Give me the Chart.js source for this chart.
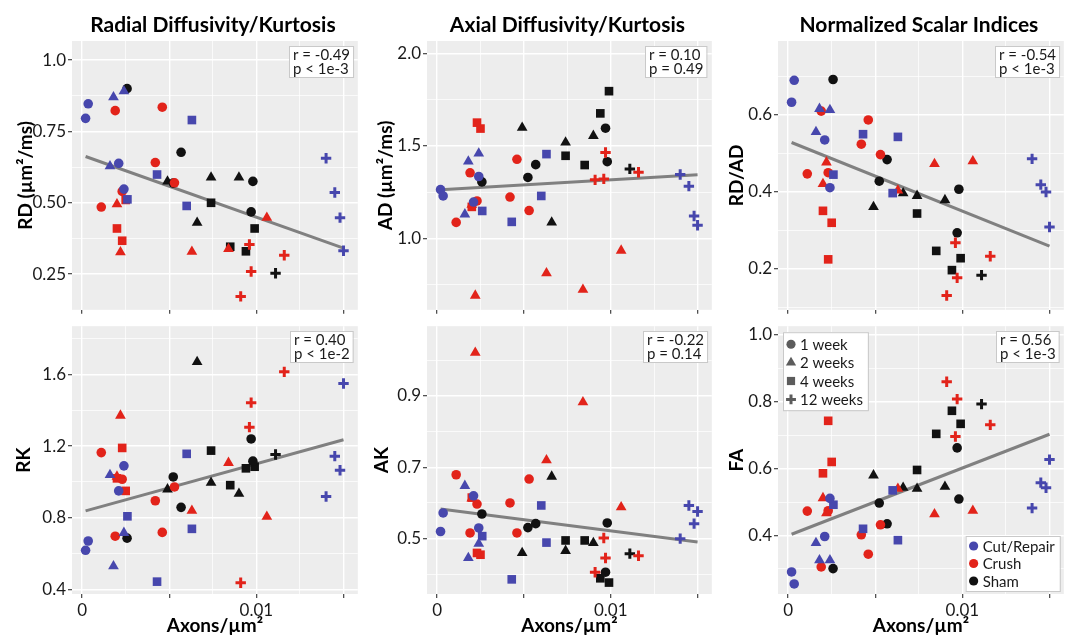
<!DOCTYPE html>
<html>
<head>
<meta charset="utf-8">
<script src="https://cdn.jsdelivr.net/npm/chart.js@4.4.1/dist/chart.umd.min.js"></script>
<style>
body { margin: 0; background: #fff; }
canvas { position: absolute; }
</style>
</head>
<body>
<canvas id="c0" width="366" height="318" style="left:0;top:0"></canvas>
<canvas id="c1" width="354" height="318" style="left:366px;top:0"></canvas>
<canvas id="c2" width="352" height="318" style="left:720px;top:0"></canvas>
<canvas id="c3" width="366" height="320" style="left:0;top:318px"></canvas>
<canvas id="c4" width="354" height="320" style="left:366px;top:318px"></canvas>
<canvas id="c5" width="352" height="320" style="left:720px;top:318px"></canvas>
<script>
// ---- data ----
const panelTitles = ['Radial Diffusivity/Kurtosis', 'Axial Diffusivity/Kurtosis', 'Normalized Scalar Indices'];
const yTitles = ['RD (µm²/ms)', 'AD (µm²/ms)', 'RD/AD', 'RK', 'AK', 'FA'];
const rLabels = ['r = -0.49', 'r = 0.10', 'r = -0.54', 'r = 0.40', 'r = -0.22', 'r = 0.56'];
const pLabels = ['p < 1e-3', 'p = 0.49', 'p < 1e-3', 'p < 1e-2', 'p = 0.14', 'p < 1e-3'];
const groupNames = ['Cut/Repair', 'Crush', 'Sham'];
const weekNames = ['1 week', '2 weeks', '4 weeks', '12 weeks'];
const weekValues = [1, 2, 4, 12];

// Cut/Repair
const cutWeek = [1, 1, 1, 1, 2, 2, 2, 4, 4, 4, 4, 12, 12, 12, 12];
const cutAxons = [0.0002, 0.00035, 0.0021, 0.0024, 0.0016, 0.0018, 0.0024, 0.0026, 0.0043, 0.006, 0.0063, 0.0140, 0.0145, 0.0148, 0.0150];
const cutRD = [0.796, 0.847, 0.638, 0.548, 0.628, 0.87, 0.891, 0.512, 0.599, 0.489, 0.79, 0.656, 0.536, 0.448, 0.332];
const cutAD = [1.263, 1.229, 1.196, 1.334, 1.13, 1.416, 1.459, 1.148, 1.089, 1.229, 1.455, 1.345, 1.282, 1.121, 1.071];
const cutRDAD = [0.633, 0.69, 0.535, 0.411, 0.556, 0.616, 0.613, 0.445, 0.55, 0.397, 0.543, 0.486, 0.419, 0.4, 0.309];
const cutRK = [0.618, 0.67, 0.95, 1.09, 1.039, 0.529, 0.716, 0.808, 0.443, 1.157, 0.738, 0.919, 1.144, 1.065, 1.55];
const cutAK = [0.52, 0.572, 0.62, 0.53, 0.648, 0.446, 0.486, 0.507, 0.386, 0.593, 0.489, 0.5, 0.593, 0.542, 0.576];
const cutFA = [0.291, 0.255, 0.397, 0.511, 0.378, 0.326, 0.326, 0.492, 0.42, 0.535, 0.386, 0.482, 0.558, 0.543, 0.627];

// Crush
const crushWeek = [1, 1, 1, 1, 1, 1, 2, 2, 2, 2, 2, 4, 4, 4, 12, 12, 12, 12];
const crushAxons = [0.0011, 0.0019, 0.0023, 0.0042, 0.0046, 0.0053, 0.002, 0.0022, 0.0063, 0.0084, 0.0106, 0.002, 0.0025, 0.0023, 0.0091, 0.0096, 0.0097, 0.0116];
const crushRD = [0.485, 0.823, 0.54, 0.641, 0.835, 0.57, 0.495, 0.327, 0.329, 0.338, 0.448, 0.41, 0.51, 0.367, 0.172, 0.354, 0.259, 0.316];
const crushAD = [1.086, 1.354, 1.202, 1.223, 1.427, 1.15, 1.182, 0.691, 0.812, 0.723, 0.934, 1.17, 1.593, 1.625, 1.316, 1.321, 1.464, 1.357];
const crushRDAD = [0.447, 0.61, 0.45, 0.524, 0.587, 0.497, 0.421, 0.477, 0.404, 0.473, 0.48, 0.351, 0.32, 0.225, 0.131, 0.268, 0.177, 0.233];
const crushRK = [1.164, 0.697, 1.015, 0.895, 0.718, 0.972, 1.03, 1.371, 0.839, 1.107, 0.806, 1.02, 0.95, 1.19, 0.437, 1.306, 1.443, 1.615];
const crushAK = [0.679, 0.516, 0.597, 0.6, 0.516, 0.667, 0.613, 1.021, 0.72, 0.882, 0.588, 0.615, 0.455, 0.46, 0.406, 0.502, 0.446, 0.452];
const crushFA = [0.473, 0.306, 0.474, 0.402, 0.344, 0.432, 0.512, 0.467, 0.54, 0.464, 0.474, 0.586, 0.62, 0.743, 0.86, 0.696, 0.808, 0.731];

// Sham
const shamWeek = [1, 1, 1, 1, 1, 2, 2, 2, 2, 4, 4, 4, 4, 12];
const shamAxons = [0.00258, 0.00523, 0.00568, 0.0097, 0.0098, 0.0049, 0.0066, 0.0074, 0.009, 0.0074, 0.0085, 0.0094, 0.0099, 0.0111];
const shamRD = [0.9, 0.569, 0.677, 0.468, 0.575, 0.575, 0.43, 0.589, 0.589, 0.5, 0.346, 0.33, 0.41, 0.253];
const shamAD = [1.305, 1.329, 1.398, 1.595, 1.414, 1.598, 1.086, 1.518, 1.554, 1.446, 1.396, 1.675, 1.795, 1.375];
const shamRDAD = [0.692, 0.428, 0.484, 0.294, 0.407, 0.361, 0.397, 0.39, 0.379, 0.344, 0.247, 0.197, 0.228, 0.184];
const shamRK = [0.686, 1.028, 0.858, 1.24, 1.116, 0.959, 1.67, 0.996, 0.935, 1.175, 0.982, 1.076, 1.085, 1.153];
const shamAK = [0.569, 0.531, 0.542, 0.406, 0.544, 0.46, 0.674, 0.466, 0.488, 0.495, 0.495, 0.389, 0.377, 0.458];
const shamFA = [0.301, 0.497, 0.435, 0.662, 0.509, 0.58, 0.543, 0.54, 0.546, 0.596, 0.704, 0.773, 0.734, 0.793];

// axes
const xMajor = [0, 0.005, 0.01, 0.015];
const xMinor = [0.0025, 0.0075, 0.0125];
const xLabels = ['0', '', '0.01', ''];
const yMajor = [[0.25, 0.5, 0.75, 1.0], [1.0, 1.5, 2.0], [0.2, 0.4, 0.6], [0.4, 0.8, 1.2, 1.6], [0.5, 0.7, 0.9], [0.4, 0.6, 0.8, 1.0]];
const yMinor = [[0.375, 0.625, 0.875], [0.75, 1.25, 1.75], [0.1, 0.3, 0.5, 0.7], [0.6, 1.0, 1.4, 1.8], [0.4, 0.6, 0.8, 1.0], [0.3, 0.5, 0.7, 0.9]];
const yLabels = [['0.25', '0.50', '0.75', '1.0'], ['1.0', '1.5', '2.0'], ['0.2', '0.4', '0.6'], ['0.4', '0.8', '1.2', '1.6'], ['0.5', '0.7', '0.9'], ['0.4', '0.6', '0.8', '1.0']];
const yMin = [0.125, 0.614, 0.094, 0.374, 0.345, 0.225];
const yMax = [1.067, 2.066, 0.792, 1.87, 1.095, 1.026];
const xMin = -0.00058, xMax = 0.01582;

// ---- style ----
const FONT = 'Lato, "Liberation Sans", sans-serif';
const groupColors = ['#4747ad', '#e2231a', '#111111'];
const weekStyles = ['circle', 'triangle', 'rect', 'cross'];
const weekRadius = [4.8, 6.2, 6.1, 5.2];
const yAxisWidth = [72, 61, 58];
const rightPad = [3, 2, 3];
const yTitlePad = [[14, 8, 5], [12, 4, 5]];

const axonsByGroup = [cutAxons, crushAxons, shamAxons];
const weeksByGroup = [cutWeek, crushWeek, shamWeek];
const panelY = [
    [cutRD, crushRD, shamRD],
    [cutAD, crushAD, shamAD],
    [cutRDAD, crushRDAD, shamRDAD],
    [cutRK, crushRK, shamRK],
    [cutAK, crushAK, shamAK],
    [cutFA, crushFA, shamFA]
];

function isIn(list, v) {
    return list.some(m => Math.abs(m - v) < 1e-9);
}

function setTicks(major, minor) {
    return function (scale) {
        scale.ticks = major.concat(minor).sort((a, b) => a - b).map(v => ({ value: v }));
    };
}

function linFit(xs, ys) {
    var n = xs.length, mx = 0, my = 0;
    for (let i = 0; i < n; i++) { mx += xs[i]; my += ys[i]; }
    mx /= n; my /= n;
    var sxy = 0, sxx = 0;
    for (let i = 0; i < n; i++) {
        sxy += (xs[i] - mx) * (ys[i] - my);
        sxx += (xs[i] - mx) * (xs[i] - mx);
    }
    var b = sxy / sxx;
    return { a: my - b * mx, b: b };
}

const decor = {
    id: 'decor',
    beforeDraw(chart) {
        const a = chart.chartArea, ctx = chart.ctx;
        ctx.save();
        ctx.fillStyle = '#ededed';
        ctx.fillRect(a.left, a.top, a.right - a.left, a.bottom - a.top);
        ctx.restore();
    },
    afterDraw(chart) {
        const o = chart.options.plugins.decor;
        const a = chart.chartArea, ctx = chart.ctx;
        ctx.save();
        if (o.title) {
            ctx.font = 'bold 21px ' + FONT;
            ctx.fillStyle = '#000';
            ctx.textAlign = 'center';
            ctx.textBaseline = 'middle';
            ctx.fillText(o.title, (a.left + a.right) / 2 - 2, 25);
        }
        // r / p box
        ctx.font = '15px ' + FONT;
        var w = Math.max(ctx.measureText(o.r).width, ctx.measureText(o.p).width) + 7;
        var bx = Math.round(a.right - 5 - w), by = Math.round(a.top + 5);
        ctx.fillStyle = '#fff';
        ctx.fillRect(bx, by, w, 31);
        ctx.strokeStyle = '#c9c9c9';
        ctx.lineWidth = 1;
        ctx.strokeRect(bx + 0.5, by + 0.5, w, 31);
        ctx.fillStyle = '#1a1a1a';
        ctx.textAlign = 'left';
        ctx.textBaseline = 'middle';
        ctx.fillText(o.r, bx + 4, by + 9);
        ctx.fillText(o.p, bx + 4, by + 23);

        if (o.legends) {
            // week legend
            ctx.font = '15px ' + FONT;
            var tw = 0;
            weekNames.forEach(t => { tw = Math.max(tw, ctx.measureText(t).width); });
            var lw = tw + 22, lx = a.left + 5, ly = a.top + 6;
            ctx.fillStyle = '#fff';
            ctx.fillRect(lx, ly, lw, 78);
            ctx.strokeRect(lx + 0.5, ly + 0.5, lw, 78);
            ctx.textAlign = 'left';
            for (let k = 0; k < weekNames.length; k++) {
                var yy = ly + 12 + k * 18.4;
                ctx.fillStyle = '#5c5c5c';
                ctx.strokeStyle = '#5c5c5c';
                ctx.lineWidth = 3;
                Chart.helpers.drawPoint(ctx, { pointStyle: weekStyles[k], radius: weekRadius[k] * 0.95, borderWidth: k == 3 ? 3 : 0 }, lx + 8, yy);
                ctx.fillStyle = '#1a1a1a';
                ctx.fillText(weekNames[k], lx + 17, yy + 1);
            }
            // group legend
            var gtw = 0;
            groupNames.forEach(t => { gtw = Math.max(gtw, ctx.measureText(t).width); });
            var gw = gtw + 22, gh = 55;
            var gx = a.right - 4 - gw, gy = a.bottom - 3 - gh;
            ctx.fillStyle = '#fff';
            ctx.fillRect(gx, gy, gw, gh);
            ctx.strokeStyle = '#c9c9c9';
            ctx.lineWidth = 1;
            ctx.strokeRect(gx + 0.5, gy + 0.5, gw, gh);
            for (let k = 0; k < groupNames.length; k++) {
                var gy2 = gy + 10 + k * 17.5;
                ctx.fillStyle = groupColors[k];
                Chart.helpers.drawPoint(ctx, { pointStyle: 'circle', radius: 4.6, borderWidth: 0 }, gx + 8, gy2);
                ctx.fillStyle = '#1a1a1a';
                ctx.fillText(groupNames[k], gx + 17, gy2 + 1);
            }
        }
        ctx.restore();
    }
};

function makePanel(p) {
    var row = p < 3 ? 0 : 1, col = p % 3;
    var datasets = [];
    var allX = [], allY = [];
    for (let g = 0; g < 3; g++) {
        var xs = axonsByGroup[g], ys = panelY[p][g], wk = weeksByGroup[g];
        for (let i = 0; i < xs.length; i++) { allX.push(xs[i]); allY.push(ys[i]); }
        for (let k = 0; k < weekValues.length; k++) {
            var pts = [];
            for (let i = 0; i < xs.length; i++) {
                if (wk[i] == weekValues[k]) pts.push({ x: xs[i], y: ys[i] });
            }
            datasets.push({
                label: groupNames[g] + ' ' + weekNames[k],
                data: pts,
                pointStyle: weekStyles[k],
                pointRadius: weekRadius[k],
                pointBackgroundColor: groupColors[g],
                pointBorderColor: groupColors[g],
                pointBorderWidth: k == 3 ? 3 : 0,
                order: 0,
                clip: false
            });
        }
    }
    var fit = linFit(allX, allY);
    var x0 = Math.min.apply(null, allX), x1 = Math.max.apply(null, allX);
    datasets.push({
        type: 'line',
        data: [{ x: x0, y: fit.a + fit.b * x0 }, { x: x1, y: fit.a + fit.b * x1 }],
        borderColor: '#808080',
        borderWidth: 3,
        pointRadius: 0,
        order: 10
    });

    new Chart(document.getElementById('c' + p), {
        type: 'scatter',
        data: { datasets: datasets },
        plugins: [decor],
        options: {
            responsive: false,
            animation: false,
            events: [],
            layout: { padding: { top: row == 0 ? 41 : 6, left: 0, right: rightPad[col], bottom: 0 } },
            plugins: {
                legend: { display: false },
                tooltip: { enabled: false },
                decor: {
                    title: row == 0 ? panelTitles[col] : null,
                    r: rLabels[p],
                    p: pLabels[p],
                    legends: p == 5
                }
            },
            scales: {
                x: {
                    type: 'linear',
                    min: xMin,
                    max: xMax,
                    afterBuildTicks: setTicks(xMajor, xMinor),
                    afterFit: function (s) {
                        s.height = row == 0 ? 6 : 44;
                        s.paddingLeft = 0; s.paddingRight = 0;
                    },
                    border: { display: false },
                    grid: {
                        color: '#ffffff',
                        lineWidth: c => isIn(xMajor, c.tick.value) ? 1.4 : 0.7,
                        tickLength: 4,
                        tickWidth: 1.1,
                        tickColor: c => isIn(xMajor, c.tick.value) ? '#333333' : 'rgba(0,0,0,0)'
                    },
                    ticks: {
                        autoSkip: false,
                        maxRotation: 0,
                        padding: 2,
                        color: '#1a1a1a',
                        font: { family: FONT, size: 17 },
                        callback: function (v) {
                            if (row == 0) return '';
                            for (let i = 0; i < xMajor.length; i++) {
                                if (Math.abs(xMajor[i] - v) < 1e-9) return xLabels[i];
                            }
                            return '';
                        }
                    },
                    title: {
                        display: row == 1,
                        text: 'Axons/µm²',
                        color: '#000',
                        font: { family: FONT, size: 19, weight: 'bold' },
                        padding: { top: 0, bottom: 1 }
                    }
                },
                y: {
                    type: 'linear',
                    min: yMin[p],
                    max: yMax[p],
                    afterBuildTicks: setTicks(yMajor[p], yMinor[p]),
                    afterFit: function (s) {
                        s.width = yAxisWidth[col];
                        s.paddingTop = 0; s.paddingBottom = 0;
                    },
                    border: { display: false },
                    grid: {
                        color: '#ffffff',
                        lineWidth: c => isIn(yMajor[p], c.tick.value) ? 1.4 : 0.7,
                        tickLength: 4,
                        tickWidth: 1.1,
                        tickColor: c => isIn(yMajor[p], c.tick.value) ? '#333333' : 'rgba(0,0,0,0)'
                    },
                    ticks: {
                        autoSkip: false,
                        padding: 2,
                        color: '#1a1a1a',
                        font: { family: FONT, size: 17 },
                        callback: function (v) {
                            for (let i = 0; i < yMajor[p].length; i++) {
                                if (Math.abs(yMajor[p][i] - v) < 1e-9) return yLabels[p][i];
                            }
                            return '';
                        }
                    },
                    title: {
                        display: true,
                        text: yTitles[p],
                        color: '#000',
                        font: { family: FONT, size: 19, weight: 'bold' },
                        padding: { top: yTitlePad[row][col], bottom: 0 }
                    }
                }
            }
        }
    });
}

for (let p = 0; p < 6; p++) makePanel(p);
</script>
</body>
</html>
